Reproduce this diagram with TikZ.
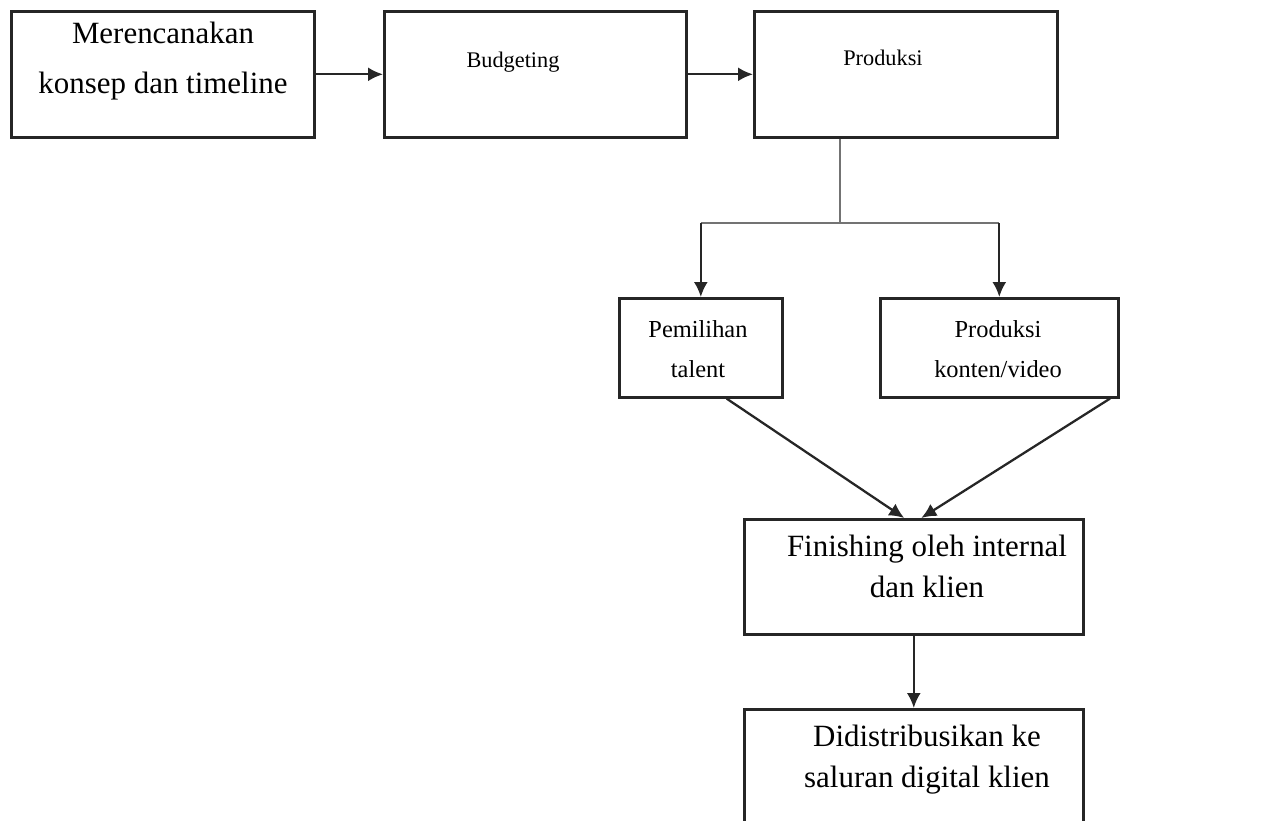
\documentclass[tikz,border=0pt]{standalone}
\usepackage{fontspec}
\setmainfont{Liberation Serif}
\usetikzlibrary{arrows.meta,calc}

\begin{document}
\begin{tikzpicture}[x=0.02cm, y=-0.02cm,
  box/.style={draw=black!85, line width=1.5pt, inner sep=0pt, anchor=north west},
  arr/.style={-{Latex[length=0.3cm,width=0.28cm]}, line width=1.3pt, black!85},
  thinline/.style={line width=0.6pt, black!55},
  bigtxt/.style={font=\fontsize{17.6}{22.8}\selectfont, align=center, anchor=base, inner sep=0pt},
  midtxt/.style={font=\fontsize{13.9}{22.2}\selectfont, align=center, anchor=base, inner sep=0pt},
  smalltxt/.style={font=\fontsize{12.7}{15}\selectfont, anchor=base, inner sep=0pt}]

  \useasboundingbox (0,0) rectangle (1261,821);

  % ── Top row: planning, budgeting, production ──────────────────
  \node[box, minimum width=6.06cm, minimum height=2.52cm] (plan) at (10,10) {};
  \node[box, minimum width=6.04cm, minimum height=2.52cm] (budget) at (383,10) {};
  \node[box, minimum width=6.06cm, minimum height=2.52cm] (prod) at (753,10) {};

  % (base anchor sits on the last line)
  \node[bigtxt, font=\fontsize{17.6}{28.4}\selectfont] (planTxt) at (163,93)
    {Merencanakan\\konsep dan timeline};
  \node[smalltxt] (budgetTxt) at (513,68) {Budgeting};
  \node[smalltxt] (prodTxt) at (883,66) {Produksi};

  \draw[arr] (plan) -- (budget);
  \draw[arr] (budget) -- (prod);

  % ── Split into talent and content ─────────────────────────────
  \node[box, minimum width=3.26cm, minimum height=1.98cm] (talent) at (618,297) {};
  \node[box, minimum width=4.76cm, minimum height=1.98cm] (konten) at (879,297) {};

  \node[midtxt] (talentTxt) at (698,377) {Pemilihan\\talent};
  \node[midtxt] (kontenTxt) at (998,377) {Produksi\\konten/video};

  \coordinate (split) at (840,223);
  \draw[thinline] (split |- prod.south) -- (split);
  \draw[thinline] (talent.north |- split) -- (konten.north |- split);
  \draw[arr] (talent.north |- split) -- (talent.north);
  \draw[arr] (konten.north |- split) -- (konten.north);

  % ── Finishing and distribution ────────────────────────────────
  \node[box, minimum width=6.78cm, minimum height=2.30cm] (finish) at (743,518) {};
  \node[box, minimum width=6.78cm, minimum height=2.70cm] (distrib) at (743,708) {};

  \node[bigtxt] (finishTxt) at (927,597) {Finishing oleh internal\\dan klien};
  \node[bigtxt] (distribTxt) at (927,787) {Didistribusikan ke\\saluran digital klien};

  \draw[arr] ($(talent.south west)!0.656!(talent.south east)$)
    -- ($(finish.north west)!0.472!(finish.north east)$);
  \draw[arr] ($(konten.south west)!0.96!(konten.south east)$)
    -- ($(finish.north west)!0.522!(finish.north east)$);
  \draw[arr] (finish) -- (distrib);

\end{tikzpicture}
\end{document}
